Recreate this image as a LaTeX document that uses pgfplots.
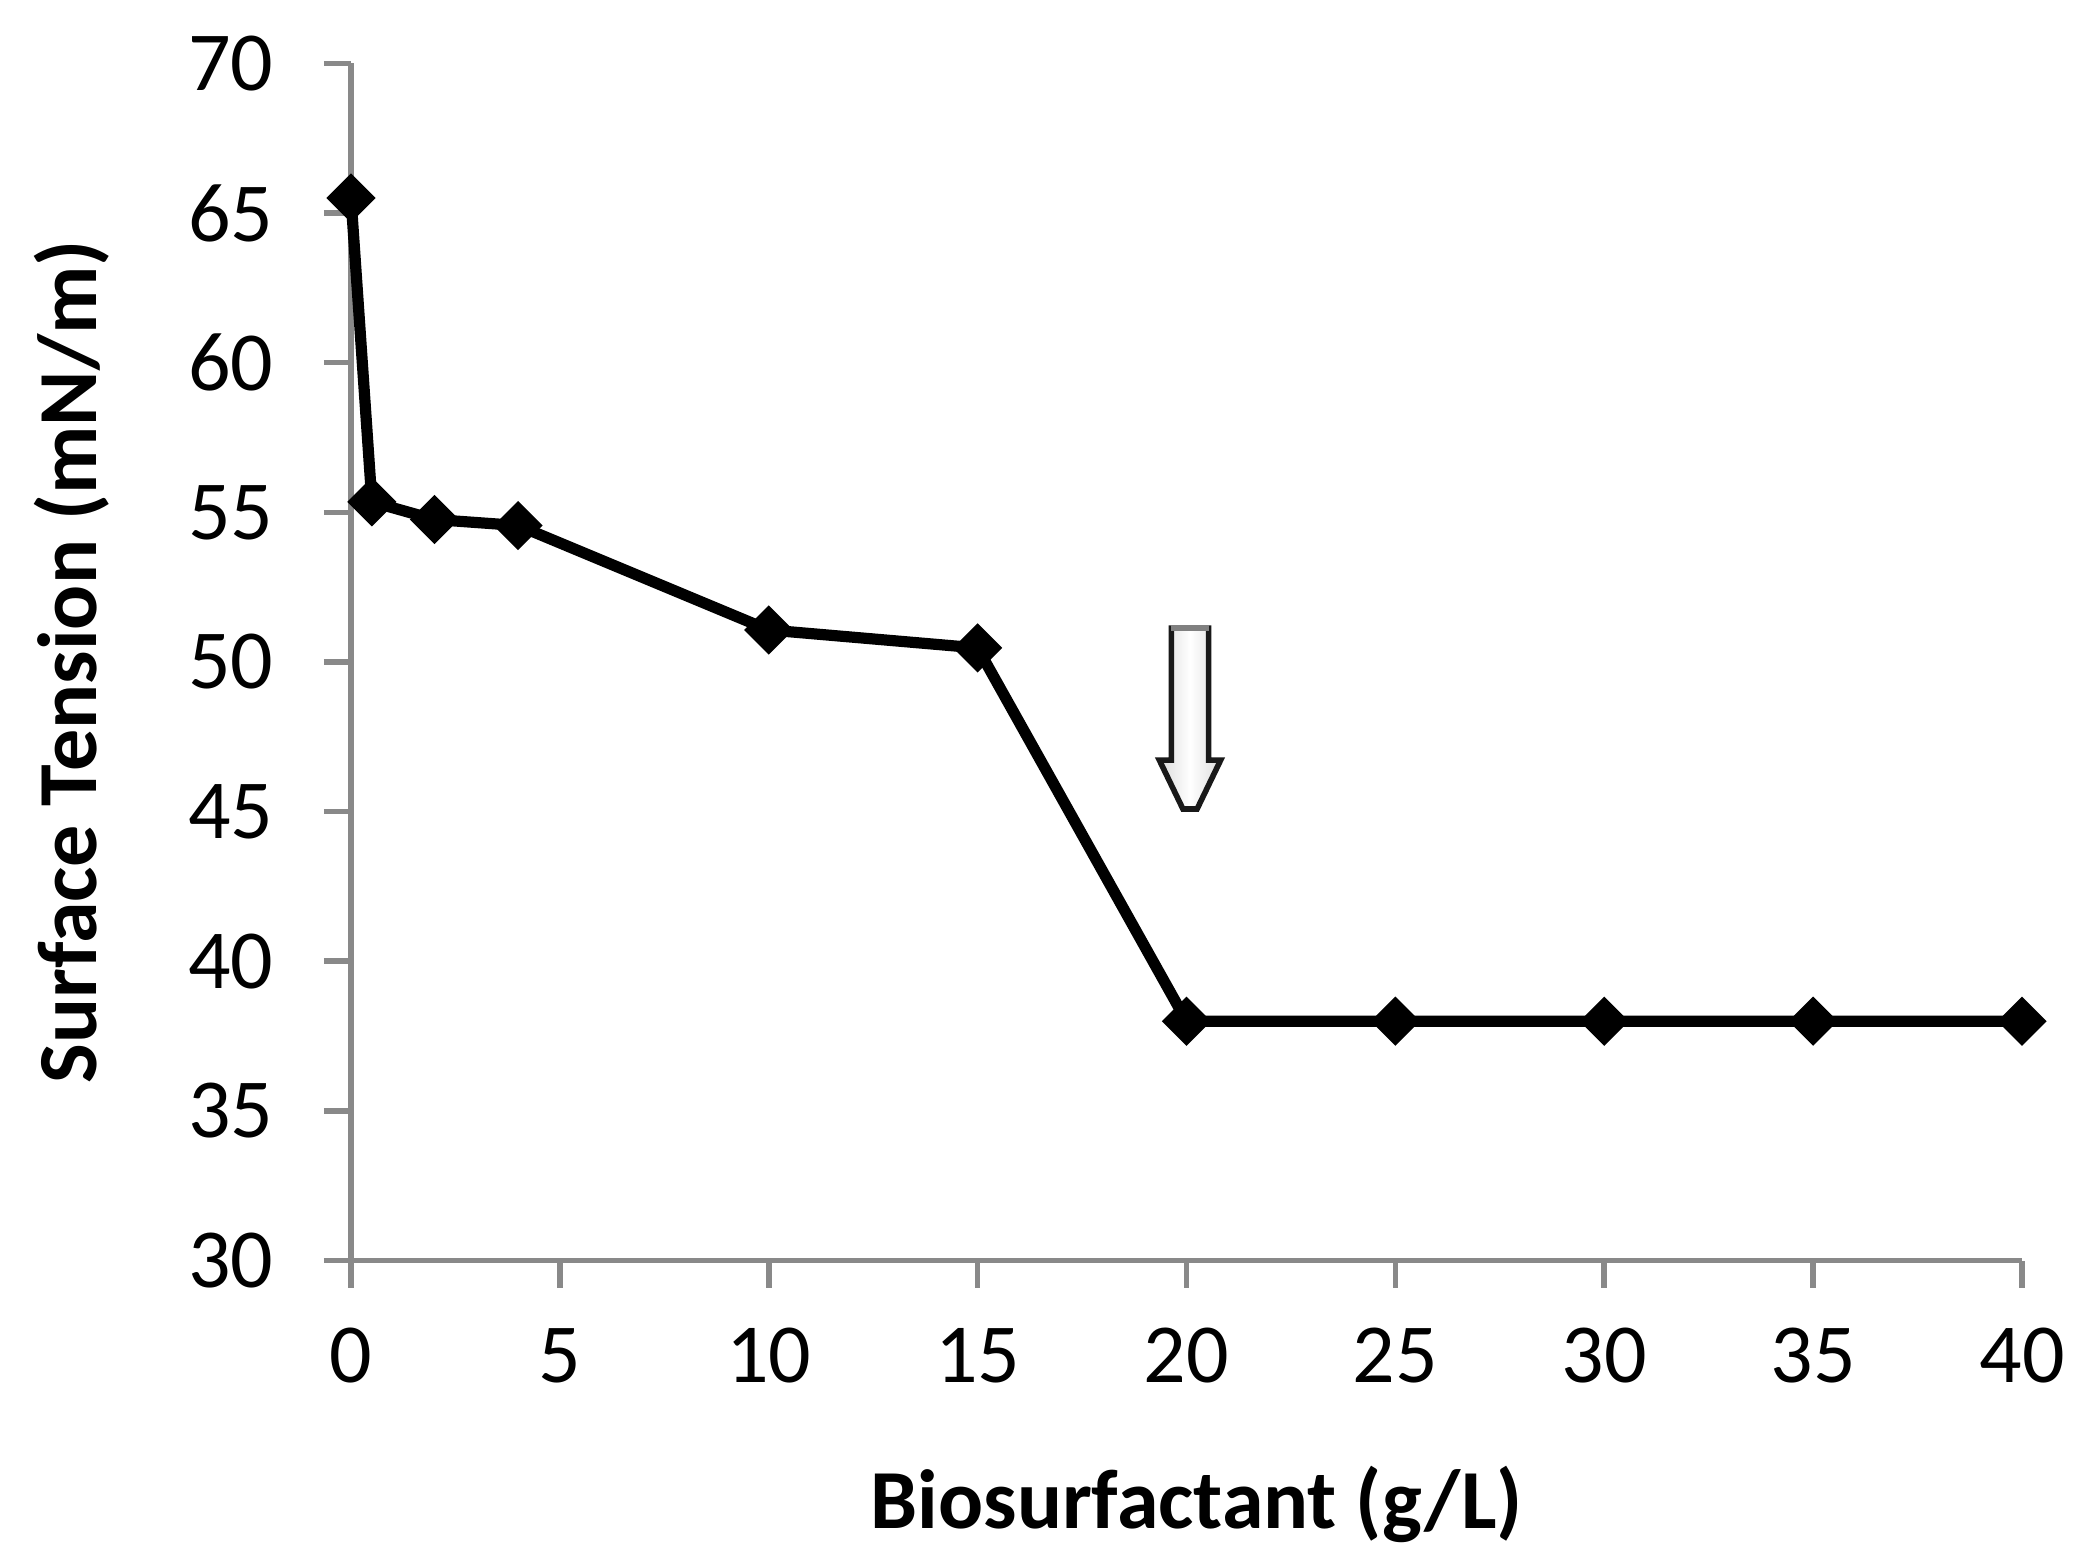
\documentclass[border=0pt]{standalone}
\usepackage{fontspec}
\setmainfont{Carlito}
\usepackage{pgfplots}
\pgfplotsset{compat=1.18}
\definecolor{axgray}{RGB}{137,137,137}
\begin{document}
\begin{tikzpicture}
\useasboundingbox (0,0) rectangle (521.5bp,388.25bp);
\begin{axis}[
  at={(87.75bp,73.1bp)}, anchor=south west,
  scale only axis, width=417.75bp, height=299.3bp,
  xmin=0, xmax=40, ymin=30, ymax=70,
  xtick={0,5,...,40}, ytick={30,35,...,70},
  axis x line*=bottom, axis y line*=left,
  axis line style={-, draw=axgray, line width=1.4bp},
  tick align=outside, major tick length=6.75bp,
  tick style={draw=axgray, line width=1.4bp},
  ticklabel style={font=\fontsize{21bp}{25bp}\selectfont, text=black},
  xticklabel style={anchor=north, inner sep=0pt, yshift=-10bp},
  yticklabel style={anchor=east, inner sep=0pt, xshift=-12.5bp},
  /pgf/number format/assume math mode=true,
  xlabel={Biosurfactant (g/L)},
  ylabel={Surface Tension (mN/m)},
  every axis x label/.style={at={(axis description cs:0.506,-0.204)}, anchor=center, font=\bfseries\fontsize{21bp}{25bp}\selectfont},
  every axis y label/.style={at={(axis description cs:-0.167,0.5)}, anchor=center, rotate=90, font=\bfseries\fontsize{21bp}{25bp}\selectfont},
  clip=false,
]
\addplot[black, line width=2.8bp, mark=square*, mark size=4.1bp,
  mark options={solid, rotate=45, fill=black, draw=black, line width=0.5bp}]
  coordinates {(0,65.5) (0.5,55.35) (2,54.76) (4,54.56) (10,51.07) (15,50.47)
               (20,38) (25,38) (30,38) (35,38) (40,38)};
\draw[draw=black!90, line width=1.4bp, left color=black!14, right color=black!14, middle color=white]
  (axis cs:19.639,51.13) -- (axis cs:20.529,51.13) -- (axis cs:20.529,46.72)
  -- (axis cs:20.817,46.72) -- (axis cs:20.254,45.09) -- (axis cs:19.914,45.09)
  -- (axis cs:19.351,46.72) -- (axis cs:19.639,46.72) -- cycle;
\draw[draw=black!50, line width=1.4bp] (axis cs:19.639,51.13) -- (axis cs:20.529,51.13);
\end{axis}
\end{tikzpicture}
\end{document}
